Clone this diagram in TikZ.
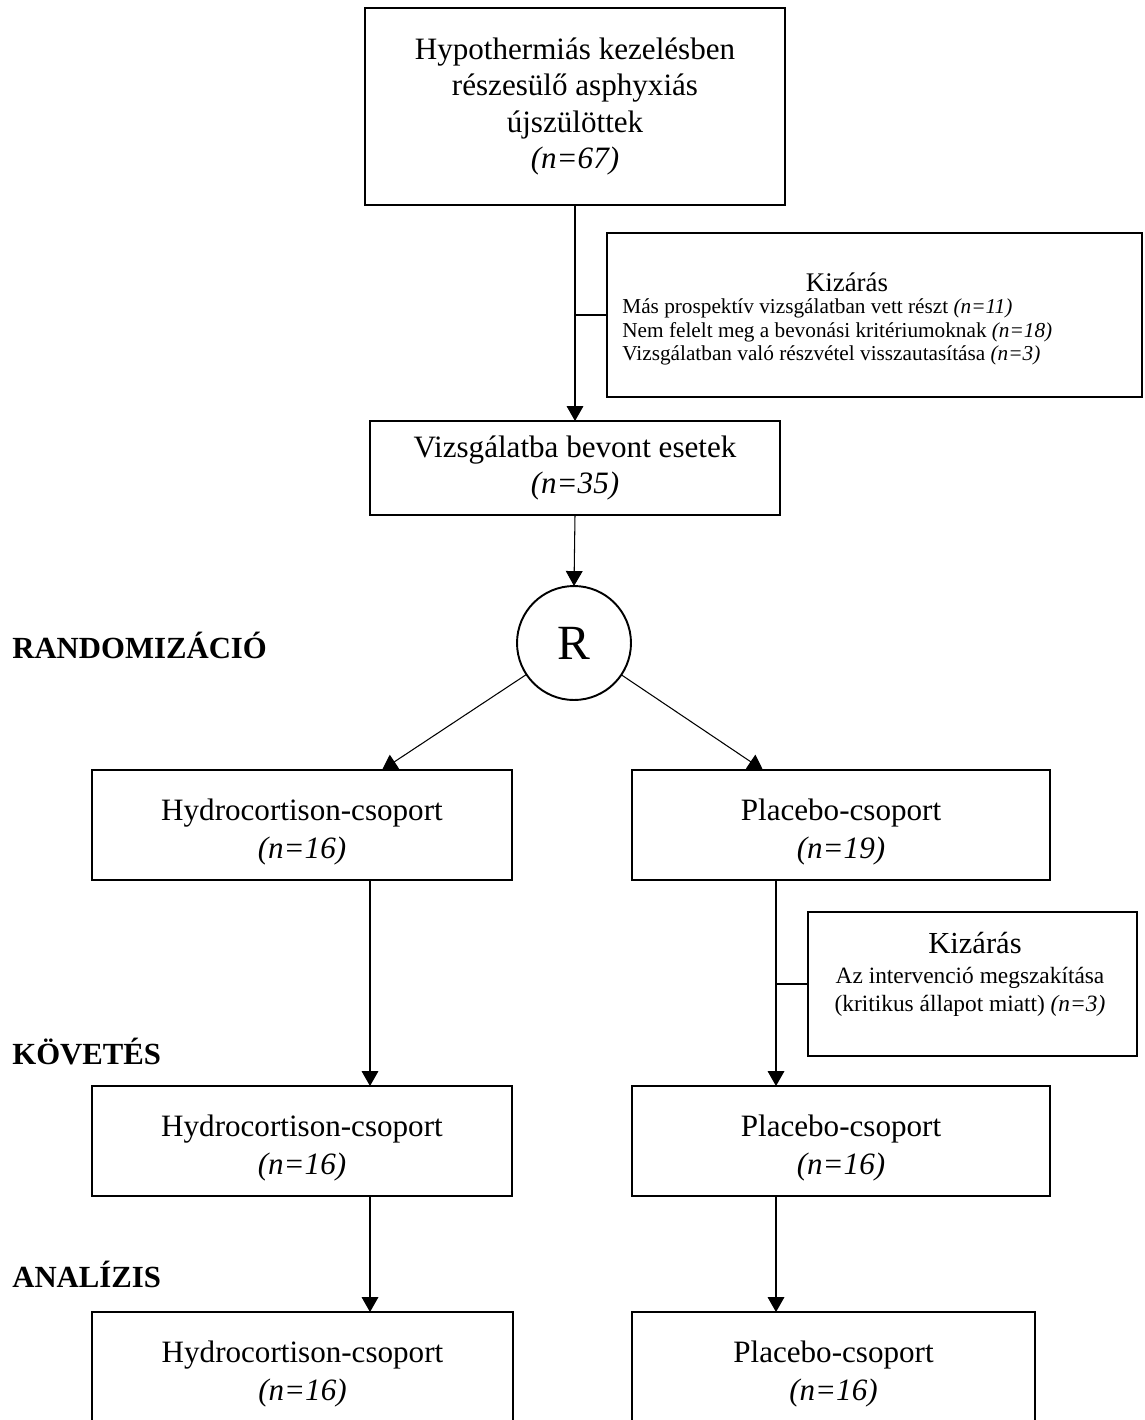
\documentclass[tikz,border=0pt]{standalone}
\usepackage{fontspec}
\setmainfont{Liberation Serif}
\usetikzlibrary{arrows.meta}
\newcommand\mainfs{\fontsize{17.7pt}{20.5pt}\selectfont}
\newcommand\rowfs{\fontsize{17.7pt}{21.5pt}\selectfont}
\newcommand\lowtext[1]{\raisebox{-3.8pt}[\height][\depth]{\begin{tabular}{@{}c@{}}#1\end{tabular}}}
\begin{document}
\begin{tikzpicture}[x=0.02cm,y=-0.02cm,
  box/.style={draw, line width=0.85pt, inner sep=0pt, outer sep=0pt, align=center, font=\mainfs},
  rowbox/.style={box, font=\rowfs, minimum height=2.2cm},
  conn/.style={line width=0.6pt},
  arr/.style={conn, -{Triangle[length=8.5pt,width=9.5pt]}},
  lbl/.style={font=\fontsize{17.5pt}{20pt}\selectfont\bfseries, anchor=west, inner sep=0pt}]
\useasboundingbox (0,0) rectangle (1145,1420);
\clip (0,0) rectangle (1145,1420);
\fill[white] (0,0) rectangle (1145,1420);

% main column
\node[box, minimum width=8.4cm, minimum height=3.94cm] (top) at (575,106.5)
  {Hypothermiás kezelésben\\részesülő asphyxiás\\újszülöttek\\\textit{(n=67)}};
\node[box, minimum width=8.2cm, minimum height=1.88cm] (vizs) at (575,468)
  {Vizsgálatba bevont esetek\\\textit{(n=35)}};
\node[draw, circle, line width=1.1pt, minimum size=2.28cm, inner sep=0pt, outer sep=0pt,
  font=\fontsize{28pt}{30pt}\selectfont] (R) at (574,643) {R};

% first exclusion
\node[draw, line width=0.85pt, minimum width=10.7cm, minimum height=3.28cm, inner sep=0pt, outer sep=0pt] (kiz1) at (874.5,315) {};
\node[font=\fontsize{15.3pt}{17pt}\selectfont, inner sep=0pt] (kiz1t) at (847,282) {Kizárás};
\node[font=\fontsize{12.1pt}{13.3pt}\selectfont, align=left, anchor=west, inner sep=0pt] (kiz1l) at (622,332)
  {Más prospektív vizsgálatban vett részt \textit{(n=11)}\\
   Nem felelt meg a bevonási kritériumoknak \textit{(n=18)}\\
   Vizsgálatban való részvétel visszautasítása \textit{(n=3)}};

% row 2
\node[rowbox, minimum width=8.4cm] (h1) at (302,825)
  {\lowtext{Hydrocortison-csoport\\\textit{(n=16)}}};
\node[rowbox, minimum width=8.36cm] (p1) at (841,825)
  {\lowtext{Placebo-csoport\\\textit{(n=19)}}};

% second exclusion
\node[draw, line width=0.85pt, minimum width=6.58cm, minimum height=2.88cm, inner sep=0pt, outer sep=0pt] (kiz2) at (972.5,984) {};
\node[font=\fontsize{17.4pt}{20pt}\selectfont, inner sep=0pt] (kiz2t) at (975,943) {Kizárás};
\node[font=\fontsize{13.3pt}{15.9pt}\selectfont, align=center, inner sep=0pt] (kiz2l) at (970,992)
  {Az intervenció megszakítása\\(kritikus állapot miatt) \textit{(n=3)}};

% row 3
\node[rowbox, minimum width=8.4cm] (h2) at (302,1141)
  {\lowtext{Hydrocortison-csoport\\\textit{(n=16)}}};
\node[rowbox, minimum width=8.36cm] (p2) at (841,1141)
  {\lowtext{Placebo-csoport\\\textit{(n=16)}}};

% row 4
\node[rowbox, minimum width=8.42cm] (h3) at (302.5,1367)
  {\lowtext{Hydrocortison-csoport\\\textit{(n=16)}}};
\node[rowbox, minimum width=8.06cm] (p3) at (833.5,1367)
  {\lowtext{Placebo-csoport\\\textit{(n=16)}}};

% stage labels
\node[lbl] (rand) at (12,645) {RANDOMIZÁCIÓ};
\node[lbl] (kov) at (12,1052) {KÖVETÉS};
\node[lbl] (anal) at (12,1274) {ANALÍZIS};

% helper coordinates
\coordinate (cM) at (575,0);
\coordinate (cL) at (370,0);
\coordinate (cR) at (776,0);
\coordinate (j1) at (575,315);
\coordinate (j2) at (776,984);
\coordinate (lt) at (382,770);
\coordinate (rt) at (763,770);

% connectors
\draw[arr] (top.south -| cM) -- (vizs.north -| cM);
\draw[conn] (j1) -- (kiz1.west |- j1);
\draw[arr] (vizs.south -| cM) -- (R.north);
\draw[arr] (R) -- (lt);
\draw[arr] (R) -- (rt);
\draw[arr] (h1.south -| cL) -- (h2.north -| cL);
\draw[arr] (p1.south -| cR) -- (p2.north -| cR);
\draw[conn] (j2) -- (kiz2.west |- j2);
\draw[arr] (h2.south -| cL) -- (h3.north -| cL);
\draw[arr] (p2.south -| cR) -- (p3.north -| cR);
\end{tikzpicture}
\end{document}
